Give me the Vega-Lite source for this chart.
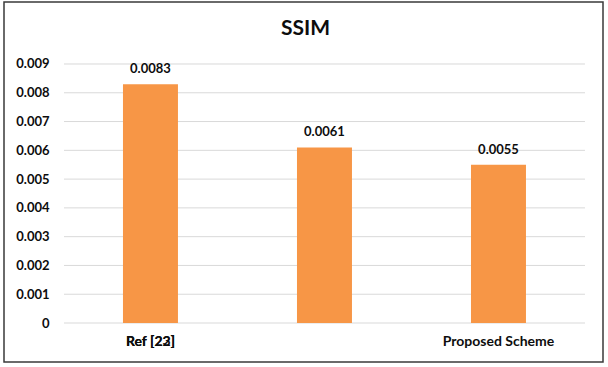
{
  "$schema": "https://vega.github.io/schema/vega-lite/v6.json",
  "autosize": "none",
  "padding": {"left": 4, "top": 2, "right": 5, "bottom": 5},
  "width": 599,
  "height": 360,
  "background": "white",
  "config": {
    "view": {"stroke": "#3a3a3a", "strokeWidth": 1.5},
    "font": "Lato",
    "axisY": {"labelOverlap": false, "labelFlush": false},
    "axisX": {"labelOverlap": false}
  },
  "title": {
    "text": "SSIM",
    "font": "Lato",
    "fontSize": 21,
    "fontWeight": "bold",
    "color": "#0d0d0d",
    "anchor": "middle",
    "offset": -37,
    "dx": 2
  },
  "layer": [
    {
      "data": {"values": [
        {"ssim": 0}, {"ssim": 0.001}, {"ssim": 0.002}, {"ssim": 0.003}, {"ssim": 0.004},
        {"ssim": 0.005}, {"ssim": 0.006}, {"ssim": 0.007}, {"ssim": 0.008}, {"ssim": 0.009}
      ]},
      "mark": {"type": "rule", "color": "#d9d9d9", "strokeWidth": 1},
      "encoding": {
        "y": {
          "field": "ssim", "type": "quantitative",
          "scale": {"domain": [-0.0013552, 0.0111544], "nice": false, "zero": false},
          "axis": {
            "title": null, "values": [0, 0.001, 0.002, 0.003, 0.004, 0.005, 0.006, 0.007, 0.008, 0.009],
            "tickCount": 20,
            "format": ".3~f",
            "labelOverlap": false,
            "orient": "left", "offset": -45, "domain": false, "ticks": false, "grid": false,
            "labelPadding": 0, "labelFont": "Lato", "labelFontSize": 13, "labelFontWeight": "bold", "labelColor": "#0d0d0d"
          }
        },
        "x": {"datum": 0, "type": "quantitative", "scale": {"domain": [-0.11516, 1.03455], "nice": false, "zero": false}, "axis": null},
        "x2": {"datum": 1}
      }
    },
    {
      "data": {"values": [
        {"method": "Ref [22]", "ssim": 0.0083},
        {"method": "Ref [23]", "ssim": 0.0061},
        {"method": "Proposed Scheme", "ssim": 0.0055}
      ]},
      "layer": [
        {
          "mark": {"type": "bar", "color": "#F79646"},
          "encoding": {
            "x": {
              "field": "method", "type": "nominal", "sort": null,
              "scale": {"paddingInner": 0.684, "paddingOuter": 0.5632, "align": 0.607},
              "axis": {
                "title": null, "orient": "bottom", "offset": -28, "domain": false, "ticks": false,
                "labelPadding": 0, "labelAngle": 0, "labelOverlap": false,
                "labelFont": "Lato", "labelFontSize": 14, "labelFontWeight": "bold", "labelColor": "#0d0d0d",
                "labelOffset": {"condition": {"test": "datum.label == 'Ref [23]'", "value": -174}, "value": 0}
              }
            },
            "y": {"field": "ssim", "type": "quantitative"}
          }
        },
        {
          "mark": {"type": "text", "font": "Lato", "fontSize": 13, "fontWeight": "bold", "color": "#0d0d0d", "baseline": "alphabetic", "dy": -11},
          "encoding": {
            "x": {"field": "method", "type": "nominal", "sort": null},
            "y": {"field": "ssim", "type": "quantitative"},
            "text": {"field": "ssim", "type": "quantitative", "format": ".4f"}
          }
        }
      ]
    }
  ],
  "resolve": {"scale": {"x": "independent"}}
}
